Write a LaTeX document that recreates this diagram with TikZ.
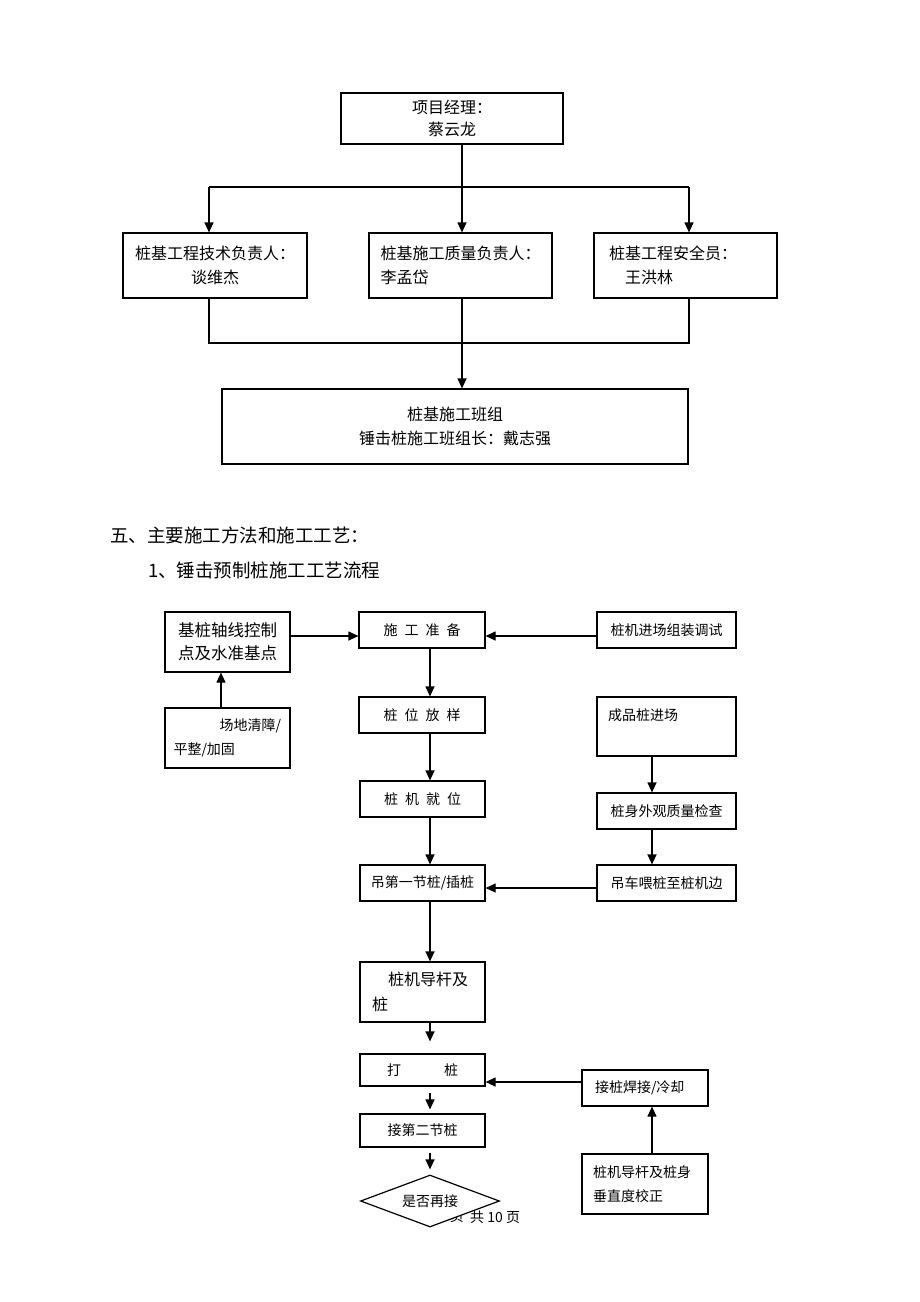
\documentclass[tikz,border=0pt]{standalone}
\usepackage{fontspec}
\setmainfont{Noto Sans CJK SC}
\usetikzlibrary{arrows.meta,shapes.geometric}

\newcommand\orgsize{\fontsize{16}{24}\selectfont}
\newcommand\flowsize{\fontsize{14}{24}\selectfont}
\newcommand\headsize{\fontsize{18.5}{20}\selectfont}

\begin{document}
\begin{tikzpicture}[x=1pt,y=-1pt,
    box/.style={draw, line width=1.2pt, inner sep=0pt},
    link/.style={line width=1.2pt},
    arr/.style={link, -{Triangle[length=10pt,width=9pt]}}]
    \useasboundingbox (0,0) rectangle (920,1302);

    % organisation chart
    \node[box, font=\fontsize{16}{22}\selectfont, align=center, minimum width=222pt, minimum height=51pt] (pm) at (452,118.5) {项目经理：\\蔡云龙};
    \node[box, font=\orgsize, align=center, minimum width=184pt, minimum height=65pt] (tech) at (215,265.5) {桩基工程技术负责人：\\谈维杰};
    \node[box, font=\orgsize, align=left, text width=160pt, minimum width=183pt, minimum height=65pt] (qual) at (460.5,265.5) {桩基施工质量负责人：\\李孟岱};
    \node[box, font=\orgsize, align=left, text width=153pt, minimum width=183pt, minimum height=65pt] (safe) at (685.5,265.5) {桩基工程安全员：\\\hspace*{16pt}王洪林};
    \node[box, font=\orgsize, align=center, minimum width=466pt, minimum height=75pt] (team) at (455,426.5) {桩基施工班组\\锤击桩施工班组长：戴志强};

    \coordinate (busL) at (209,187);
    \coordinate (busT) at (462,187);
    \coordinate (busR) at (689,187);
    \draw[link] ([xshift=10pt]pm.south) -- (busT);
    \draw[link] (busL) -- (busR);
    \draw[arr] (busL) -- (busL |- tech.north);
    \draw[arr] (busT) -- (busT |- qual.north);
    \draw[arr] (busR) -- (busR |- safe.north);

    \coordinate (joinL) at (209,343);
    \coordinate (joinT) at (462,343);
    \coordinate (joinR) at (689,343);
    \draw[link] (joinL |- tech.south) -- (joinL) -- (joinR) -- (joinR |- safe.south);
    \draw[link] (joinT |- qual.south) -- (joinT);
    \draw[arr] (joinT) -- (joinT |- team.north);

    % headings
    \node[font=\headsize, anchor=west, inner sep=0pt] (sec) at (110,535) {五、主要施工方法和施工工艺：};
    \node[font=\headsize, anchor=west, inner sep=0pt] (sub) at (148,570) {1、锤击预制桩施工工艺流程};

    % flow chart
    \node[box, font=\fontsize{16.5}{23}\selectfont, align=center, minimum width=125pt, minimum height=60pt] (axis) at (227.5,642) {基桩轴线控制\\点及水准基点};
    \node[box, font=\flowsize, align=left, text width=108pt, minimum width=125pt, minimum height=60pt] (clear) at (227.5,738) {\hspace*{46pt}场地清障/\\平整/加固};
    \node[box, font=\flowsize, minimum width=126pt, minimum height=36pt] (prep) at (422,630) {施\hspace{7pt}工\hspace{7pt}准\hspace{7pt}备};
    \node[box, font=\flowsize, minimum width=139pt, minimum height=36pt] (setup) at (666.5,630) {桩机进场组装调试};
    \node[box, font=\flowsize, minimum width=126pt, minimum height=36pt] (stake) at (422,715) {桩\hspace{7pt}位\hspace{7pt}放\hspace{7pt}样};
    \node[box, font=\flowsize, align=left, text width=117pt, minimum width=139pt, minimum height=59pt] (piles) at (666.5,726.5) {成品桩进场\\\mbox{}};
    \node[box, font=\flowsize, minimum width=125pt, minimum height=36pt] (seat) at (422.5,799) {桩\hspace{7pt}机\hspace{7pt}就\hspace{7pt}位};
    \node[box, font=\flowsize, minimum width=139pt, minimum height=36pt] (check) at (666.5,811) {桩身外观质量检查};
    \node[box, font=\flowsize, minimum width=125pt, minimum height=36pt] (hoist) at (422.5,883) {吊第一节桩/插桩};
    \node[box, font=\flowsize, minimum width=139pt, minimum height=36pt] (feed) at (666.5,883) {吊车喂桩至桩机边};
    \node[box, font=\fontsize{16}{25}\selectfont, align=left, text width=101pt, minimum width=125pt, minimum height=60pt] (guide) at (422.5,992) {\hspace*{16pt}桩机导杆及\\桩};
    \node[box, font=\flowsize, minimum width=125pt, minimum height=32pt] (drive) at (422.5,1070) {打\hspace{43pt}桩};
    \node[box, font=\flowsize, align=left, text width=100pt, minimum width=126pt, minimum height=36pt] (weld) at (645,1088) {接桩焊接/冷却};
    \node[box, font=\flowsize, minimum width=125pt, minimum height=33pt] (second) at (422.5,1130.5) {接第二节桩};
    \node[box, font=\flowsize, align=left, text width=104pt, minimum width=126pt, minimum height=60pt] (plumb) at (645,1184) {桩机导杆及桩身\\垂直度校正};

    % page footer, partly under the diamond
    \node[font=\flowsize, anchor=east, inner sep=0pt] (pgno) at (464,1217) {页};
    \node[font=\flowsize, anchor=west, inner sep=0pt] (pgall) at (470,1217) {共 10 页};
    \node[draw, diamond, fill=white, line width=1.2pt, inner sep=0pt, aspect=2.67, minimum width=139pt, minimum height=52pt, font=\flowsize] (again) at (430,1201) {是否再接};

    \draw[arr] ([yshift=6pt]axis.east) -- ([yshift=-6pt]prep.west);
    \draw[arr] ([yshift=-6pt]setup.west) -- ([yshift=-6pt]prep.east);
    \draw[arr] ([xshift=-6.5pt]clear.north) -- ([xshift=-6.5pt]axis.south);
    \draw[arr] ([xshift=8pt]prep.south) -- ([xshift=8pt]stake.north);
    \draw[arr] ([xshift=8pt]stake.south) -- ([xshift=7.5pt]seat.north);
    \draw[arr] ([xshift=7.5pt]seat.south) -- ([xshift=7.5pt]hoist.north);
    \draw[arr] ([xshift=-14.5pt]piles.south) -- ([xshift=-14.5pt]check.north);
    \draw[arr] ([xshift=-14.5pt]check.south) -- ([xshift=-14.5pt]feed.north);
    \draw[arr] ([yshift=-5pt]feed.west) -- ([yshift=-5pt]hoist.east);
    \draw[arr] ([xshift=7.5pt]hoist.south) -- ([xshift=7.5pt]guide.north);
    \draw[arr, shorten >=12pt] ([xshift=7.5pt]guide.south) -- ([xshift=7.5pt]drive.north);
    \draw[arr, shorten <=6pt, shorten >=4pt] ([xshift=7.5pt]drive.south) -- ([xshift=7.5pt]second.north);
    \draw[arr, shorten <=5pt, shorten >=5pt] ([xshift=7.5pt]second.south) -- (again.north);
    \draw[arr] ([yshift=6pt]weld.west) -- ([yshift=-12pt]drive.east);
    \draw[arr] ([xshift=7pt]plumb.north) -- ([xshift=7pt]weld.south);
\end{tikzpicture}
\end{document}
